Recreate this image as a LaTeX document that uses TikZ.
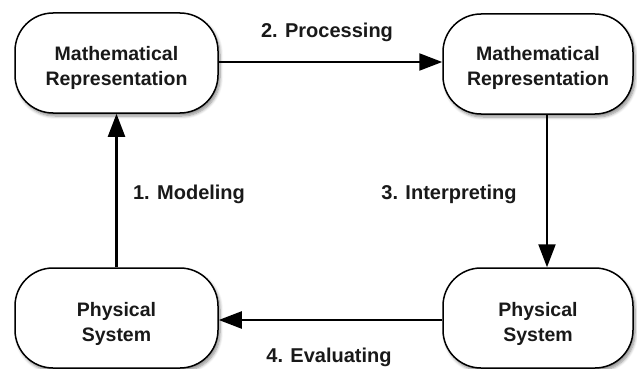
\documentclass[tikz,border=0pt]{standalone}
\usepackage{fontspec}
\setmainfont{Liberation Sans}
\usetikzlibrary{arrows.meta,shadows.blur}
\tikzset{
  box/.style={draw=black, line width=1.5pt, fill=white, rounded corners=38pt,
    minimum width=#1, minimum height=100pt, inner sep=0pt,
    blur shadow={shadow xshift=2pt, shadow yshift=-3pt, shadow blur steps=6, shadow opacity=45, shadow blur radius=3pt}},
  box/.default=203pt,
  boxtext/.style={align=center, inner sep=0pt, font=\bfseries\fontsize{19.5}{25}\selectfont, text=black!90},
  arr/.style={line width=2.2pt, draw=black, -{Triangle[length=23pt, width=17pt]}},
  lbl/.style={font=\bfseries\fontsize{20}{22}\selectfont, text=black!90, inner sep=0pt}
}
\begin{document}
\begin{tikzpicture}[x=1pt,y=-1pt]
\useasboundingbox (0,0) rectangle (637,369);
\node[box] (tl) at (116.5,63) {};
\node[box=190pt] (tr) at (538,64) {};
\node[box] (bl) at (116.5,318) {};
\node[box=190pt] (br) at (538,318) {};
\node[boxtext] (tlt) at (116.5,68) {Mathematical\\Representation};
\node[boxtext] (trt) at (538,68) {Mathematical\\Representation};
\node[boxtext] (blt) at (116.5,324) {Physical\\System};
\node[boxtext] (brt) at (538,324) {Physical\\System};
\coordinate (rx) at (547,0);
\coordinate (ty) at (0,62);
\coordinate (by) at (0,320);
\draw[arr] (tl.east |- ty) -- (tr.west |- ty);
\draw[arr] (bl.north) -- (tl.south);
\draw[arr] (tr.south -| rx) -- (br.north -| rx);
\draw[arr] (br.west |- by) -- (bl.east |- by);
\node[lbl] (l2) at (327,32) {2. Processing};
\node[lbl] (l1) at (189,194) {1. Modeling};
\node[lbl] (l3) at (449,194) {3. Interpreting};
\node[lbl] (l4) at (329,357) {4. Evaluating};
\end{tikzpicture}
\end{document}
